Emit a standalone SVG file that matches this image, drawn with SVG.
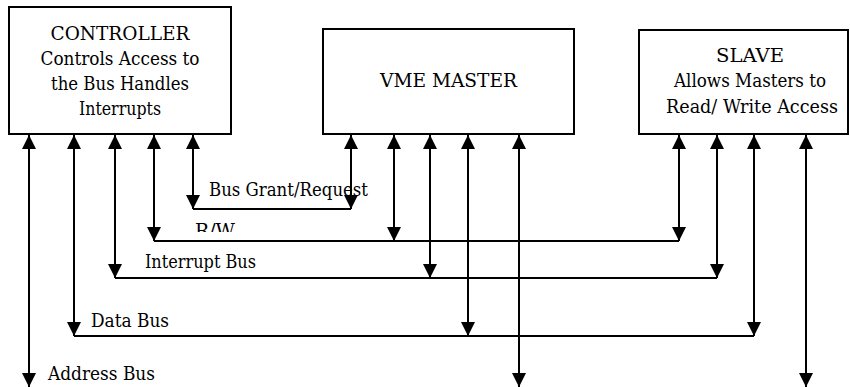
<svg xmlns="http://www.w3.org/2000/svg" width="850" height="387" viewBox="0 0 850 387">
  <style>
    .box { fill: #fff; stroke: #000; stroke-width: 2; }
    .txt { font-family: 'DejaVu Serif Condensed', 'DejaVu Serif', serif; font-size: 19px; fill: #000; }
    .mid { text-anchor: middle; }
    .wire { fill: none; stroke: #000; stroke-width: 2; }
    .bus { fill: none; stroke: #000; stroke-width: 2; }
    .both { marker-start: url(#head); marker-end: url(#head); }
  </style>
  <defs>
    <marker id="head" markerUnits="userSpaceOnUse" markerWidth="14" markerHeight="14" refX="14" refY="7" orient="auto-start-reverse" overflow="visible">
      <path d="M0,0 L14,7 L0,14 Z" fill="#000"/>
    </marker>
    <clipPath id="rw-clip">
      <rect x="180" y="215" width="80" height="17"/>
    </clipPath>
  </defs>

  <rect width="850" height="387" fill="#fff"/>

  <!-- Bus labels -->
  <g id="bus-labels">
    <text class="txt" x="209" y="196" textLength="159" lengthAdjust="spacingAndGlyphs">Bus Grant/Request</text>
    <text class="txt" x="195" y="237" textLength="40" lengthAdjust="spacingAndGlyphs" clip-path="url(#rw-clip)">R/W</text>
    <text class="txt" x="145" y="268" textLength="111" lengthAdjust="spacingAndGlyphs">Interrupt Bus</text>
    <text class="txt" x="91" y="327" textLength="78" lengthAdjust="spacingAndGlyphs">Data Bus</text>
    <text class="txt" x="48" y="380" textLength="107" lengthAdjust="spacingAndGlyphs">Address Bus</text>
  </g>

  <!-- Nodes -->
  <g id="controller">
    <rect class="box" x="9" y="7" width="222" height="127"/>
    <text class="txt mid" x="120" y="40" textLength="139" lengthAdjust="spacingAndGlyphs">CONTROLLER</text>
    <text class="txt mid" x="120" y="65" textLength="159" lengthAdjust="spacingAndGlyphs">Controls Access to</text>
    <text class="txt mid" x="120" y="90" textLength="138" lengthAdjust="spacingAndGlyphs">the Bus Handles</text>
    <text class="txt mid" x="120" y="115" textLength="82" lengthAdjust="spacingAndGlyphs">Interrupts</text>
  </g>

  <g id="vme-master">
    <rect class="box" x="323" y="29" width="251" height="105"/>
    <text class="txt mid" x="448.5" y="87" textLength="137" lengthAdjust="spacingAndGlyphs">VME MASTER</text>
  </g>

  <g id="slave">
    <rect class="box" x="639" y="30" width="209" height="104"/>
    <text class="txt mid" x="750" y="62" textLength="68" lengthAdjust="spacingAndGlyphs">SLAVE</text>
    <text class="txt mid" x="750" y="87" textLength="152" lengthAdjust="spacingAndGlyphs">Allows Masters to</text>
    <text class="txt mid" x="752" y="113" textLength="172" lengthAdjust="spacingAndGlyphs">Read/ Write Access</text>
  </g>

  <!-- Connectors -->
  <g id="connectors">
    <!-- horizontal bus lines -->
    <line class="bus" x1="193" y1="209" x2="351" y2="209"/>
    <line class="bus" x1="154" y1="241" x2="679" y2="241"/>
    <line class="bus" x1="115" y1="278" x2="717" y2="278"/>
    <line class="bus" x1="74" y1="336" x2="754" y2="336"/>

    <!-- controller drops -->
    <line class="wire both" x1="29" y1="135" x2="29" y2="387"/>
    <line class="wire both" x1="74" y1="135" x2="74" y2="336"/>
    <line class="wire both" x1="115" y1="135" x2="115" y2="278"/>
    <line class="wire both" x1="154" y1="135" x2="154" y2="241"/>
    <line class="wire both" x1="193" y1="135" x2="193" y2="209"/>

    <!-- master drops -->
    <line class="wire both" x1="351" y1="135" x2="351" y2="209"/>
    <line class="wire both" x1="394" y1="135" x2="394" y2="241"/>
    <line class="wire both" x1="430" y1="135" x2="430" y2="278"/>
    <line class="wire both" x1="468" y1="135" x2="468" y2="336"/>
    <line class="wire both" x1="519" y1="135" x2="519" y2="387"/>

    <!-- slave drops -->
    <line class="wire both" x1="679" y1="135" x2="679" y2="241"/>
    <line class="wire both" x1="717" y1="135" x2="717" y2="278"/>
    <line class="wire both" x1="754" y1="135" x2="754" y2="336"/>
    <line class="wire both" x1="806" y1="135" x2="806" y2="387"/>
  </g>
</svg>
